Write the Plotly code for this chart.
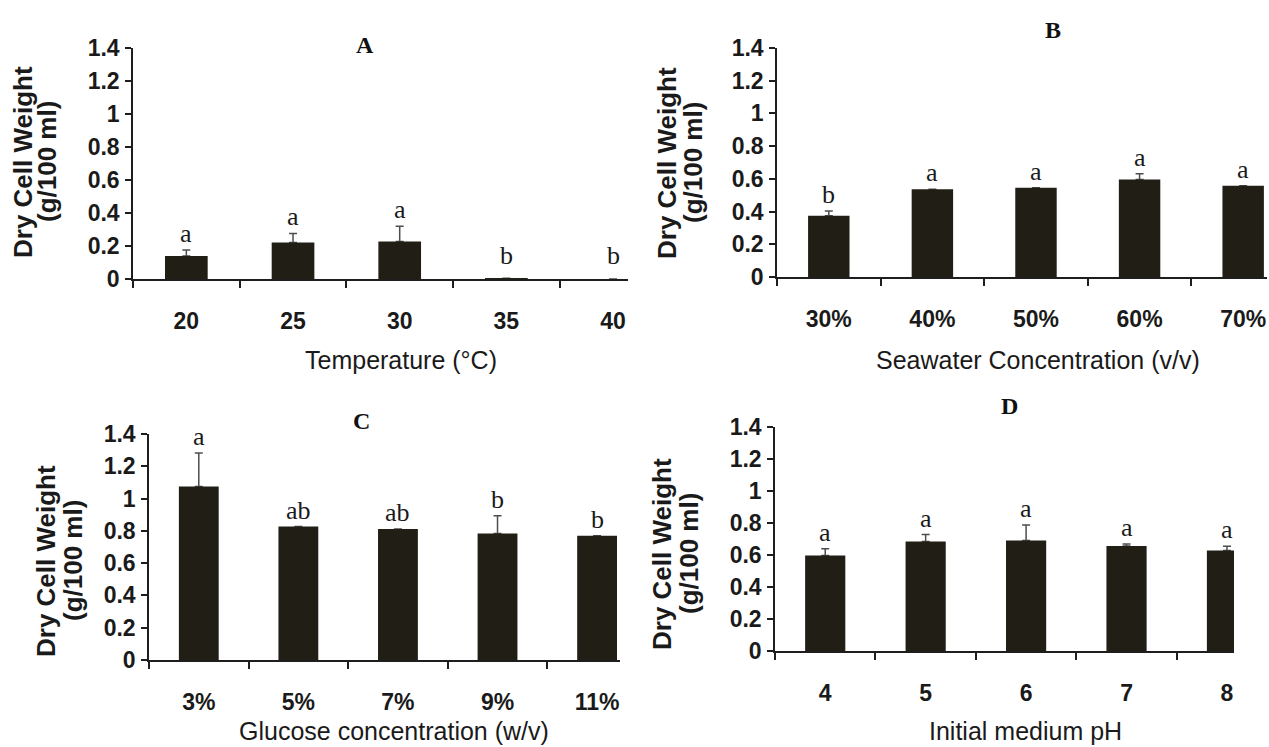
import plotly.graph_objects as go

# ---------------- data ----------------
temp_labels = ["20", "25", "30", "35", "40"]
temp_values = [0.140, 0.221, 0.227, 0.005, 0.0]
temp_err = [0.036, 0.055, 0.093, 0.0, 0.0]
temp_letters = ["a", "a", "a", "b", "b"]

sea_labels = ["30%", "40%", "50%", "60%", "70%"]
sea_values = [0.374, 0.537, 0.545, 0.596, 0.558]
sea_err = [0.029, 0.0, 0.0, 0.035, 0.0]
sea_letters = ["b", "a", "a", "a", "a"]

glu_labels = ["3%", "5%", "7%", "9%", "11%"]
glu_values = [1.075, 0.827, 0.811, 0.784, 0.769]
glu_err = [0.207, 0.0, 0.0, 0.109, 0.0]
glu_letters = ["a", "ab", "ab", "b", "b"]

ph_labels = ["4", "5", "6", "7", "8"]
ph_values = [0.597, 0.684, 0.691, 0.657, 0.628]
ph_err = [0.042, 0.044, 0.097, 0.011, 0.027]
ph_letters = ["a", "a", "a", "a", "a"]

y_tickvals = [0, 0.2, 0.4, 0.6, 0.8, 1.0, 1.2, 1.4]
y_ticktext = ["0", "0.2", "0.4", "0.6", "0.8", "1", "1.2", "1.4"]

panel_titles = ["A", "B", "C", "D"]
x_titles = ["Temperature (\u00b0C)", "Seawater Concentration (v/v)",
            "Glucose concentration (w/v)", "Initial medium pH"]
y_title_line1 = "Dry Cell Weight"
y_title_line2 = "(g/100 ml)"

# ---------------- layout geometry (pixels) ----------------
W, H = 1269, 747
def px(x):
    return x / W
def py(y):
    return 1 - y / H

panels = [
    dict(labels=temp_labels, values=temp_values, err=temp_err, letters=temp_letters,
         x0=133, x1=628, ytop=48, ybot=279, xr=4.14,
         title_xy=(365, 45), xt_xy=(401, 360), yt_x=(23, 47), yt_y=162),
    dict(labels=sea_labels, values=sea_values, err=sea_err, letters=sea_letters,
         x0=777, x1=1267, ytop=48, ybot=277, xr=4.23,
         title_xy=(1053, 30), xt_xy=(1038, 360), yt_x=(667, 693), yt_y=163),
    dict(labels=glu_labels, values=glu_values, err=glu_err, letters=glu_letters,
         x0=149, x1=620, ytop=434, ybot=660, xr=4.23,
         title_xy=(361, 421), xt_xy=(394, 731), yt_x=(46, 73), yt_y=561),
    dict(labels=ph_labels, values=ph_values, err=ph_err, letters=ph_letters,
         x0=775, x1=1234, ytop=427, ybot=651, xr=4.07,
         title_xy=(1009, 406), xt_xy=(1025, 731), yt_x=(662, 689), yt_y=554),
]

BAR = "#211e16"
AX = "#1e1e1e"
TXT = "#1a1a1a"
SANS = "Liberation Sans, Arial, sans-serif"
SERIF = "Liberation Serif, Times New Roman, serif"
TICKFONT = dict(family=SANS, size=23, color=TXT, weight="bold")

fig = go.Figure()
annotations = []
layout = {}

for i, p in enumerate(panels, start=1):
    xa = "x" if i == 1 else f"x{i}"
    ya = "y" if i == 1 else f"y{i}"
    # invisible carrier bars holding the error bars (drawn underneath)
    fig.add_trace(go.Bar(
        x=p["labels"], y=p["values"], xaxis=xa, yaxis=ya,
        marker=dict(color="rgba(0,0,0,0)", line=dict(width=0)),
        error_y=dict(type="data", array=p["err"], symmetric=False,
                     arrayminus=[0] * len(p["err"]),
                     color="#4d4d4d", thickness=1.5, width=4),
        showlegend=False, hoverinfo="skip",
    ))
    # visible bars on top
    fig.add_trace(go.Bar(
        x=p["labels"], y=p["values"], xaxis=xa, yaxis=ya,
        marker=dict(color=BAR, line=dict(width=0)),
        showlegend=False,
    ))
    layout[f"xaxis{'' if i == 1 else i}"] = dict(
        domain=[px(p["x0"]), px(p["x1"])], anchor=ya,
        type="category", range=[-0.5, p["xr"]],
        showline=True, linecolor=AX, linewidth=1.5,
        ticks="outside", tickson="boundaries", ticklen=7, tickwidth=1.5, tickcolor=AX,
        tickfont=TICKFONT, ticklabelstandoff=21, automargin=False,
        showgrid=False, zeroline=False, fixedrange=True,
    )
    layout[f"yaxis{'' if i == 1 else i}"] = dict(
        domain=[py(p["ybot"]), py(p["ytop"])], anchor=xa,
        range=[0, 1.4],
        tickvals=y_tickvals, ticktext=y_ticktext,
        showline=True, linecolor=AX, linewidth=1.5,
        ticks="outside", ticklen=6, tickwidth=1.5, tickcolor=AX,
        tickfont=TICKFONT, ticklabelstandoff=1, automargin=False,
        showgrid=False, zeroline=False, fixedrange=True,
    )
    # significance letters (x given as category index)
    for k, (v, e, let) in enumerate(zip(p["values"], p["err"], p["letters"])):
        top = max(v + e, 0.045)
        annotations.append(dict(
            x=k, y=top, xref=xa, yref=ya, text=let, showarrow=False,
            yanchor="bottom", xanchor="center", yshift=0,
            font=dict(family=SERIF, size=26, color=TXT),
        ))
    # panel title
    annotations.append(dict(
        x=px(p["title_xy"][0]), y=py(p["title_xy"][1]), xref="paper", yref="paper",
        text=f"<b>{panel_titles[i-1]}</b>", showarrow=False,
        xanchor="center", yanchor="middle",
        font=dict(family=SERIF, size=24, color="#111111"),
    ))
    # x axis title
    annotations.append(dict(
        x=px(p["xt_xy"][0]), y=py(p["xt_xy"][1]), xref="paper", yref="paper",
        text=x_titles[i-1], showarrow=False,
        xanchor="center", yanchor="middle",
        font=dict(family=SANS, size=25, color=TXT),
    ))
    # y axis title, two lines
    for xx, txt in zip(p["yt_x"], (y_title_line1, y_title_line2)):
        annotations.append(dict(
            x=px(xx), y=py(p["yt_y"]), xref="paper", yref="paper",
            text=f"<b>{txt}</b>", showarrow=False, textangle=-90,
            xanchor="center", yanchor="middle",
            font=dict(family=SANS, size=26, color=TXT),
        ))

fig.update_layout(
    width=W, height=H,
    margin=dict(l=0, r=0, t=0, b=0, pad=0, autoexpand=False),
    paper_bgcolor="white", plot_bgcolor="white",
    barmode="overlay",
    bargap=0.6,
    annotations=annotations,
    **layout,
)

fig.write_html("out.html", config={"displayModeBar": False})
